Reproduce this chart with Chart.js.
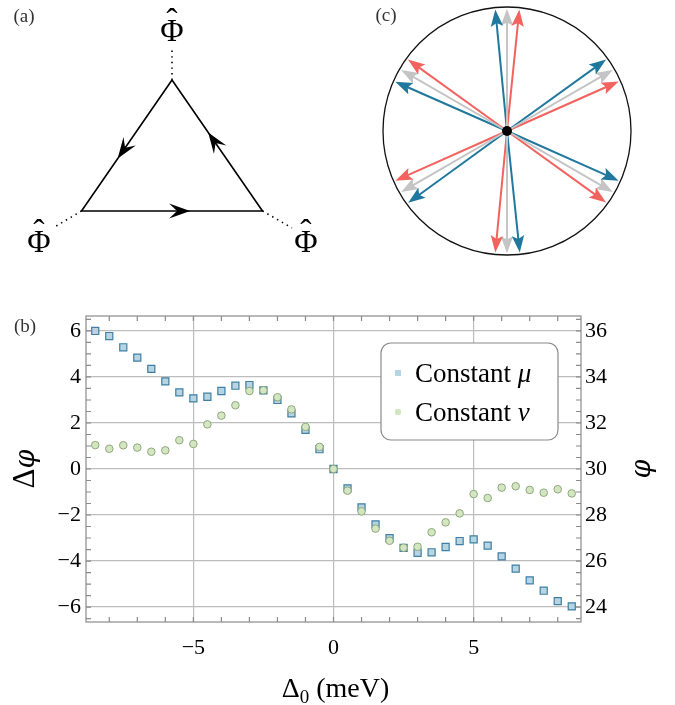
<!DOCTYPE html>
<html><head><meta charset="utf-8">
<script src="https://cdn.jsdelivr.net/npm/chart.js@4.4.1/dist/chart.umd.min.js"></script>
<style>
html,body{margin:0;padding:0;background:#fff;width:675px;height:705px;overflow:hidden}
canvas{position:absolute}
#ca{left:0;top:0}
#cc{left:370px;top:0}
#cb{left:0;top:290px}
</style></head><body>
<canvas id="ca" width="340" height="290"></canvas>
<canvas id="cc" width="305" height="290"></canvas>
<canvas id="cb" width="675" height="415"></canvas>
<script>
// ---------- panel (b) data ----------
const delta0 = [-8.5,-8,-7.5,-7,-6.5,-6,-5.5,-5,-4.5,-4,-3.5,-3,-2.5,-2,-1.5,-1,-0.5,0,0.5,1,1.5,2,2.5,3,3.5,4,4.5,5,5.5,6,6.5,7,7.5,8,8.5];
const constMu = [6.00,5.78,5.29,4.84,4.35,3.81,3.33,3.07,3.14,3.39,3.62,3.65,3.42,3.00,2.42,1.70,0.86,0,-0.84,-1.67,-2.41,-3.01,-3.43,-3.64,-3.62,-3.39,-3.13,-3.06,-3.33,-3.80,-4.33,-4.84,-5.29,-5.74,-5.97];
const constNu = [1.04,0.88,1.03,0.93,0.75,0.81,1.25,1.09,1.94,2.32,2.77,3.39,3.42,3.12,2.59,1.83,0.96,0,-0.94,-1.84,-2.59,-3.12,-3.42,-3.38,-2.75,-2.32,-1.93,-1.09,-1.26,-0.81,-0.75,-0.91,-1.03,-0.88,-1.06];
const seriesLabels = ['Constant ', 'Constant '];
const seriesSymbols = ['μ', 'ν'];
const xTicks = [-5, 0, 5];
const xTickLabels = ['−5', '0', '5'];
const yTicks = [-6, -4, -2, 0, 2, 4, 6];
const yTickLabels = ['−6', '−4', '−2', '0', '2', '4', '6'];
const phiTicks = [24, 26, 28, 30, 32, 34, 36];
const phiTickLabels = ['24', '26', '28', '30', '32', '34', '36'];

// ---------- panel (a) data (diagram units) ----------
const triVertices = [[0, 1], [-0.866, -0.5], [0.866, -0.5]];   // top, bottom-left, bottom-right
const triEdges = [[0, 1], [1, 2], [2, 0]];                       // arrow directions
const legEnds = [[0, 1.37], [-1.139, -0.695], [1.148, -0.695]];
const phiLabelPos = [[0, 1.54], [-1.273, -0.879], [1.282, -0.879]];

// ---------- panel (c) data (degrees) ----------
const grayAngles = [90, 30, 150, 210, 270, 330];
const blueAngles = [95.5, 35.8, 156.2, 216, 336, 276];
const redAngles  = [84.2, 23.9, 144.2, 204, 324.2, 264.5];
const arrowLength = 0.985;

const SERIF = "'Liberation Serif', 'DejaVu Serif', serif";
const GREEK = "'DejaVu Serif', 'Liberation Serif', serif";

function range(a, b, s) { const r = []; for (let v = a; v <= b + 1e-9; v += s) r.push(+v.toFixed(4)); return r; }

function arrowHead(ctx, tx, ty, dx, dy, L, W, notch, color) {
  const n = Math.hypot(dx, dy), ux = dx / n, uy = dy / n, px = -uy, py = ux;
  ctx.beginPath();
  ctx.moveTo(tx, ty);
  ctx.lineTo(tx - ux * L + px * W, ty - uy * L + py * W);
  ctx.lineTo(tx - ux * L * notch, ty - uy * L * notch);
  ctx.lineTo(tx - ux * L - px * W, ty - uy * L - py * W);
  ctx.closePath();
  ctx.fillStyle = color;
  ctx.fill();
}

// =============== PANEL (a) ===============
const triData = [0, 1, 2, 0].map(i => ({ x: triVertices[i][0], y: triVertices[i][1] }));
const legDatasets = triVertices.map((v, i) => ({
  data: [{ x: v[0], y: v[1] }, { x: legEnds[i][0], y: legEnds[i][1] }],
  showLine: true, borderColor: '#000', borderWidth: 1.6, borderDash: [1.4, 4.2],
  pointRadius: 0, fill: false
}));
const panelA = {
  id: 'panelA',
  afterDatasetsDraw(chart) {
    const { ctx, scales: { x, y } } = chart;
    ctx.save();
    const P = v => [x.getPixelForValue(v[0]), y.getPixelForValue(v[1])];
    for (const [i, j] of triEdges) {
      const a = P(triVertices[i]), b = P(triVertices[j]);
      const t = 0.6;
      arrowHead(ctx, a[0] + (b[0] - a[0]) * t, a[1] + (b[1] - a[1]) * t, b[0] - a[0], b[1] - a[1], 21, 7.5, 0.62, '#000');
    }
    ctx.fillStyle = '#000';
    ctx.textAlign = 'center';
    ctx.textBaseline = 'middle';
    for (const p of phiLabelPos) {
      const [px, py] = P(p);
      ctx.font = `32px ${SERIF}`;
      ctx.fillText('Φ', px, py);
      ctx.font = `34px ${SERIF}`;
      ctx.fillText('ˆ', px, py - 10);
    }
    ctx.font = `19px ${SERIF}`;
    ctx.fillStyle = '#333';
    ctx.fillText('(a)', 24, 17);
    ctx.restore();
  }
};
new Chart(document.getElementById('ca'), {
  type: 'scatter',
  data: {
    datasets: [
      { data: triData, showLine: true, borderColor: '#000', borderWidth: 1.6, pointRadius: 0, fill: false },
      ...legDatasets
    ]
  },
  options: {
    responsive: false, animation: false, devicePixelRatio: 1,
    layout: { padding: 0 },
    plugins: { legend: { display: false }, tooltip: { enabled: false } },
    scales: {
      x: { display: false, min: -1.646, max: 1.6077 },
      y: { display: false, min: -1.4055, max: 1.9164 }
    }
  },
  plugins: [panelA]
});

// =============== PANEL (c) ===============
const toRad = d => d * Math.PI / 180;
const arrowGroups = [
  { angles: grayAngles, color: '#c4c4c4' },
  { angles: redAngles, color: '#f2625e' },
  { angles: blueAngles, color: '#21789f' }
];
const lineBack = 0.08;
const arrowDatasets = [];
for (const g of arrowGroups) {
  for (const a of g.angles) {
    const r = arrowLength - lineBack;
    arrowDatasets.push({
      data: [{ x: 0, y: 0 }, { x: r * Math.cos(toRad(a)), y: r * Math.sin(toRad(a)) }],
      showLine: true, borderColor: g.color, borderWidth: 2, pointRadius: 0, fill: false
    });
  }
}
const panelC = {
  id: 'panelC',
  beforeDatasetsDraw(chart) {
    const { ctx, scales: { x, y } } = chart;
    const cx = x.getPixelForValue(0), cy = y.getPixelForValue(0);
    const r = x.getPixelForValue(1) - cx;
    ctx.save();
    ctx.beginPath();
    ctx.arc(cx, cy, r, 0, Math.PI * 2);
    ctx.strokeStyle = '#111';
    ctx.lineWidth = 1.3;
    ctx.stroke();
    ctx.restore();
  },
  afterDatasetsDraw(chart) {
    const { ctx, scales: { x, y } } = chart;
    ctx.save();
    const cx = x.getPixelForValue(0), cy = y.getPixelForValue(0);
    for (const g of arrowGroups) {
      for (const a of g.angles) {
        const tx = x.getPixelForValue(arrowLength * Math.cos(toRad(a)));
        const ty = y.getPixelForValue(arrowLength * Math.sin(toRad(a)));
        arrowHead(ctx, tx, ty, tx - cx, ty - cy, 17, 6.2, 0.8, g.color);
      }
    }
    ctx.beginPath();
    ctx.arc(cx, cy, 5, 0, Math.PI * 2);
    ctx.fillStyle = '#000';
    ctx.fill();
    ctx.font = `19px ${SERIF}`;
    ctx.fillStyle = '#333';
    ctx.textAlign = 'center';
    ctx.textBaseline = 'middle';
    ctx.fillText('(c)', 16, 16);
    ctx.restore();
  }
};
new Chart(document.getElementById('cc'), {
  type: 'scatter',
  data: { datasets: arrowDatasets },
  options: {
    responsive: false, animation: false, devicePixelRatio: 1,
    layout: { padding: 0 },
    plugins: { legend: { display: false }, tooltip: { enabled: false } },
    scales: {
      x: { display: false, min: -1.1048, max: 1.3548 },
      y: { display: false, min: -1.2823, max: 1.0565 }
    }
  },
  plugins: [panelC]
});

// =============== PANEL (b) ===============
const xMinor = range(-8, 8, 1);
const yMinor = range(-6.5, 6.5, 0.5);
const phiMinor = range(23.5, 36.5, 0.5);
const muStyle = { fill: '#b6d4e2', border: '#3f7fa3' };
const nuStyle = { fill: '#d4e5c2', border: '#8ea87c' };

function drawTextRuns(ctx, runs, cx, baseY) {
  let w = 0;
  for (const r of runs) { ctx.font = r.font; r.w = ctx.measureText(r.t).width; w += r.w; }
  let x0 = cx - w / 2;
  ctx.textAlign = 'left';
  ctx.textBaseline = 'alphabetic';
  for (const r of runs) { ctx.font = r.font; ctx.fillText(r.t, x0, baseY + (r.dy || 0)); x0 += r.w; }
}

const mainDeco = {
  id: 'mainDeco',
  beforeDatasetsDraw(chart) {
    const { ctx, chartArea: a, scales: { x, y, y2 } } = chart;
    ctx.save();
    ctx.strokeStyle = '#8a8a8a';
    ctx.lineWidth = 1.2;
    ctx.beginPath();
    for (const v of xMinor) {
      const p = x.getPixelForValue(v);
      ctx.moveTo(p, a.top); ctx.lineTo(p, a.top + 5);
      ctx.moveTo(p, a.bottom); ctx.lineTo(p, a.bottom - 5);
    }
    for (const v of yMinor) { const p = y.getPixelForValue(v); ctx.moveTo(a.left, p); ctx.lineTo(a.left + 5, p); }
    for (const v of phiMinor) { const p = y2.getPixelForValue(v); ctx.moveTo(a.right, p); ctx.lineTo(a.right - 5, p); }
    ctx.stroke();
    ctx.strokeRect(a.left, a.top, a.right - a.left, a.bottom - a.top);
    ctx.restore();
  },
  afterDatasetsDraw(chart) {
    const { ctx, chartArea: a } = chart;
    ctx.save();
    // legend box
    const lx = a.left + 295, ly = a.top + 27, lw = 177, lh = 97, rr = 10;
    ctx.beginPath();
    ctx.moveTo(lx + rr, ly);
    ctx.arcTo(lx + lw, ly, lx + lw, ly + lh, rr);
    ctx.arcTo(lx + lw, ly + lh, lx, ly + lh, rr);
    ctx.arcTo(lx, ly + lh, lx, ly, rr);
    ctx.arcTo(lx, ly, lx + lw, ly, rr);
    ctx.closePath();
    ctx.fillStyle = '#fff';
    ctx.fill();
    ctx.strokeStyle = '#8a8a8a';
    ctx.lineWidth = 1.2;
    ctx.stroke();
    const rows = [ly + 30, ly + 69];
    // markers
    ctx.fillStyle = muStyle.fill;
    ctx.fillRect(lx + 14, rows[0] - 3, 6, 6);
    ctx.beginPath();
    ctx.arc(lx + 17, rows[1], 3.2, 0, Math.PI * 2);
    ctx.fillStyle = nuStyle.fill;
    ctx.fill();
    ctx.fillStyle = '#000';
    ctx.textAlign = 'left';
    ctx.textBaseline = 'alphabetic';
    for (let i = 0; i < 2; i++) {
      ctx.font = `27px ${SERIF}`;
      ctx.fillText(seriesLabels[i], lx + 34, rows[i] + 9);
      const w = ctx.measureText(seriesLabels[i]).width;
      ctx.font = `italic 27px ${SERIF}`;
      ctx.fillText(seriesSymbols[i], lx + 34 + w, rows[i] + 9);
    }
    // x title
    const cxm = (a.left + a.right) / 2;
    drawTextRuns(ctx, [
      { t: 'Δ', font: `28px ${SERIF}` },
      { t: '0', font: `19px ${SERIF}`, dy: 6 },
      { t: ' (meV)', font: `28px ${SERIF}` }
    ], cxm + 2, a.bottom + 75);
    // left title
    const cym = (a.top + a.bottom) / 2;
    ctx.save();
    ctx.translate(24, cym);
    ctx.rotate(-Math.PI / 2);
    drawTextRuns(ctx, [
      { t: 'Δ', font: `31px ${SERIF}` },
      { t: 'φ', font: `italic 27px ${GREEK}` }
    ], 0, 10);
    ctx.restore();
    // right title
    ctx.save();
    ctx.translate(640, cym);
    ctx.rotate(-Math.PI / 2);
    drawTextRuns(ctx, [{ t: 'φ', font: `italic 27px ${GREEK}` }], 0, 10);
    ctx.restore();
    // panel label
    ctx.font = `19px ${SERIF}`;
    ctx.fillStyle = '#333';
    ctx.textAlign = 'center';
    ctx.textBaseline = 'middle';
    ctx.fillText('(b)', 25, a.top + 11);
    ctx.restore();
  }
};

const tickFont = { family: SERIF, size: 22 };
new Chart(document.getElementById('cb'), {
  type: 'scatter',
  data: {
    datasets: [
      {
        label: seriesLabels[0] + seriesSymbols[0],
        data: delta0.map((v, i) => ({ x: v, y: constMu[i] })),
        pointStyle: 'rect', pointRadius: 5, backgroundColor: muStyle.fill,
        borderColor: muStyle.border, borderWidth: 1.2, order: 1
      },
      {
        label: seriesLabels[1] + seriesSymbols[1],
        data: delta0.map((v, i) => ({ x: v, y: constNu[i] })),
        pointStyle: 'circle', pointRadius: 3.8, backgroundColor: nuStyle.fill,
        borderColor: nuStyle.border, borderWidth: 1, order: 0
      }
    ]
  },
  options: {
    responsive: false, animation: false, devicePixelRatio: 1,
    layout: { padding: { top: 26, left: 0, right: 0, bottom: 0 } },
    plugins: { legend: { display: false }, tooltip: { enabled: false } },
    scales: {
      x: {
        type: 'linear', position: 'bottom', min: -8.83, max: 8.83,
        afterBuildTicks: s => { s.ticks = xTicks.map(v => ({ value: v })); },
        afterFit: s => { s.height = 83; },
        grid: { color: '#bdbdbd', lineWidth: 1.2, drawTicks: false },
        border: { display: false },
        ticks: { font: tickFont, color: '#000', padding: 13, maxRotation: 0, autoSkip: false,
          callback: v => xTickLabels[xTicks.indexOf(v)] }
      },
      y: {
        type: 'linear', position: 'left', min: -6.65, max: 6.65,
        afterBuildTicks: s => { s.ticks = yTicks.map(v => ({ value: v })); },
        afterFit: s => { s.width = 86; },
        grid: { color: '#bdbdbd', lineWidth: 1.2, drawTicks: false },
        border: { display: false },
        ticks: { font: tickFont, color: '#000', padding: 5, autoSkip: false,
          callback: v => yTickLabels[yTicks.indexOf(v)] }
      },
      y2: {
        type: 'linear', position: 'right', min: 23.35, max: 36.65,
        afterBuildTicks: s => { s.ticks = phiTicks.map(v => ({ value: v })); },
        afterFit: s => { s.width = 94; },
        grid: { display: false, drawTicks: false },
        border: { display: false },
        ticks: { font: tickFont, color: '#000', padding: 4, autoSkip: false,
          callback: v => phiTickLabels[phiTicks.indexOf(v)] }
      }
    }
  },
  plugins: [mainDeco]
});
</script>
</body></html>
